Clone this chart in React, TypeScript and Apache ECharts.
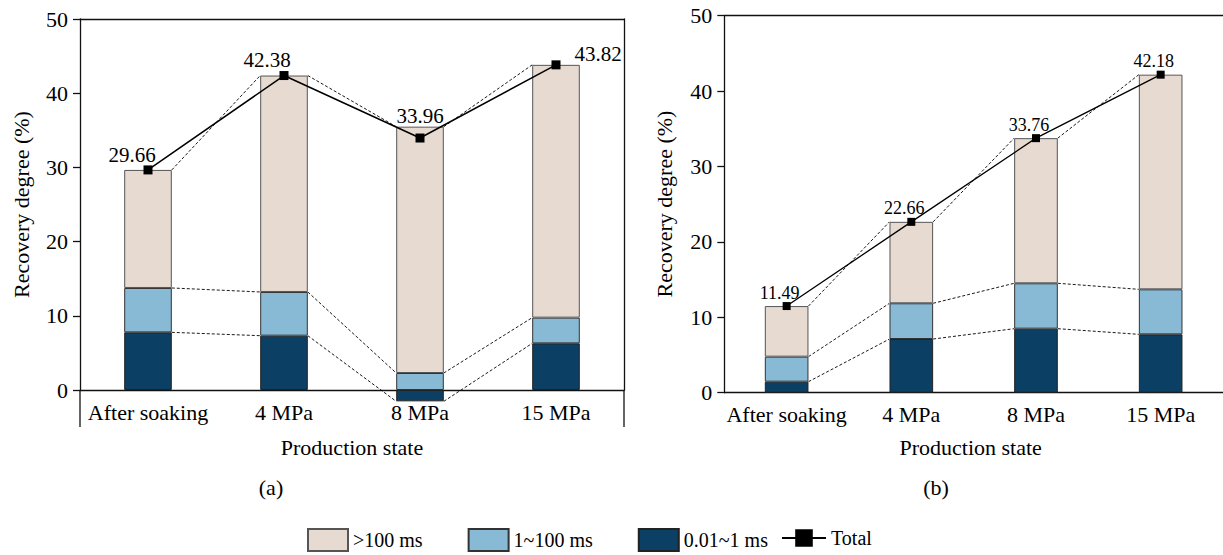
import React, { useEffect, useRef } from "react";
import * as echarts from "echarts";

// ---------- data ----------
const categories = ["After soaking", "4 MPa", "8 MPa", "15 MPa"];
const seriesNames = [">100 ms", "1~100 ms", "0.01~1 ms", "Total"];

// panel (a)
const darkA = [7.77, 7.32, -1.53, 6.29];
const lightA = [5.98, 5.89, 2.29, 3.46];
const beigeA = [15.91, 29.17, 33.2, 34.07];
const totalA = [29.66, 42.38, 33.96, 43.82];

// panel (b)
const darkB = [1.46, 7.12, 8.49, 7.74];
const lightB = [3.32, 4.74, 6.02, 5.97];
const beigeB = [6.71, 10.8, 19.25, 28.47];
const totalB = [11.49, 22.66, 33.76, 42.18];

// ---------- styles ----------
const FONT = "Liberation Serif";
const C_BEIGE = "#e7dad1";
const C_LIGHT = "#88bad6";
const C_DARK = "#0b3f63";
const AXIS_C = "#111";
const BAR_RATIO = 0.35;
const labelOffsetA = [
  [-16, -15],
  [-17, -16],
  [0, -22],
  [42, -11],
];
const labelOffsetB = [
  [-7, -13.5],
  [-7, -13.5],
  [-7, -13.5],
  [-7, -13.5],
];

function edges(dark: number[], light: number[], beige: number[], i: number) {
  const d = dark[i];
  const l = d >= 0 ? d + light[i] : light[i];
  return [d, l, l + beige[i]];
}

function connectorData(dark: number[], light: number[], beige: number[]) {
  const out: number[][] = [];
  for (let i = 0; i < dark.length - 1; i++) {
    out.push([i, ...edges(dark, light, beige, i), ...edges(dark, light, beige, i + 1)]);
  }
  return out;
}

function renderConnector(params: any, api: any) {
  const i = api.value(0);
  const half = (api.size([1, 0])[0] * BAR_RATIO) / 2;
  const children: any[] = [];
  for (let k = 0; k < 3; k++) {
    const p0 = api.coord([i, api.value(1 + k)]);
    const p1 = api.coord([i + 1, api.value(4 + k)]);
    children.push({
      type: "line",
      shape: { x1: p0[0] + half, y1: p0[1], x2: p1[0] - half, y2: p1[1] },
      style: { stroke: "#000", lineWidth: 0.9, lineDash: [3, 2] },
    });
  }
  return { type: "group", children };
}

function panelSeries(
  idx: number,
  dark: number[],
  light: number[],
  beige: number[],
  total: number[],
  offsets: number[][],
  labelSize: number,
  symSize: number,
  lineW: number
) {
  const barCommon = {
    type: "bar",
    xAxisIndex: idx * 2,
    yAxisIndex: idx * 2,
    stack: "s" + idx,
    barWidth: BAR_RATIO * 100 + "%",
    clip: false,
  };
  return [
    {
      ...barCommon,
      name: seriesNames[2],
      data: dark,
      itemStyle: { color: C_DARK, borderColor: "#222", borderWidth: 1 },
    },
    {
      ...barCommon,
      name: seriesNames[1],
      data: light,
      itemStyle: { color: C_LIGHT, borderColor: "#333", borderWidth: 1 },
    },
    {
      ...barCommon,
      name: seriesNames[0],
      data: beige,
      itemStyle: { color: C_BEIGE, borderColor: "#555", borderWidth: 1 },
    },
    {
      type: "custom",
      xAxisIndex: idx * 2,
      yAxisIndex: idx * 2,
      renderItem: renderConnector,
      data: connectorData(dark, light, beige),
      encode: { x: 0, y: [1, 2, 3, 4, 5, 6] },
      clip: false,
      z: 1,
      silent: true,
    },
    {
      type: "line",
      name: seriesNames[3],
      xAxisIndex: idx * 2,
      yAxisIndex: idx * 2,
      symbol: "rect",
      symbolSize: symSize,
      z: 5,
      itemStyle: { color: "#000" },
      lineStyle: { color: "#000", width: lineW },
      data: total.map((v, i) => ({
        value: v,
        label: { offset: offsets[i] },
      })),
      label: {
        show: true,
        position: "inside",
        color: "#000",
        fontFamily: FONT,
        fontSize: labelSize,
        formatter: (p: any) => p.value.toFixed(2),
      },
    },
  ];
}

function xAxes(gridIndex: number, nameGap: number, namePad: number[]) {
  return [
    {
      type: "category",
      gridIndex,
      data: categories,
      position: "bottom",
      axisLine: { onZero: false, lineStyle: { color: AXIS_C, width: 1.3 } },
      axisTick: { alignWithLabel: true, length: 6, lineStyle: { color: AXIS_C, width: 1.3 } },
      axisLabel: { interval: 0, color: "#000", fontFamily: FONT, fontSize: 22, margin: 11 },
      name: "Production state",
      nameLocation: "middle",
      nameGap,
      nameTextStyle: { color: "#000", fontFamily: FONT, fontSize: 22, padding: namePad },
      splitLine: { show: false },
    },
    {
      type: "category",
      gridIndex,
      data: categories,
      position: "top",
      axisLine: { onZero: false, lineStyle: { color: AXIS_C, width: 1.3 } },
      axisTick: { show: false },
      axisLabel: { show: false },
      splitLine: { show: false },
    },
  ];
}

function yAxes(gridIndex: number, rightLine: boolean) {
  return [
    {
      type: "value",
      gridIndex,
      min: 0,
      max: 50,
      interval: 10,
      position: "left",
      axisLine: { show: true, onZero: false, lineStyle: { color: AXIS_C, width: 1.3 } },
      axisTick: { show: true, length: 7, lineStyle: { color: AXIS_C, width: 1.3 } },
      axisLabel: { color: "#000", fontFamily: FONT, fontSize: 22, margin: 12 },
      splitLine: { show: false },
    },
    {
      type: "value",
      gridIndex,
      min: 0,
      max: 50,
      interval: 10,
      position: "right",
      axisLine: { show: rightLine, onZero: false, lineStyle: { color: AXIS_C, width: 1.3 } },
      axisTick: { show: false },
      axisLabel: { show: false },
      splitLine: { show: false },
    },
  ];
}

function txt(text: string, x: number, y: number, size: number, rotation = 0) {
  return {
    type: "text",
    x,
    y,
    rotation,
    style: {
      text,
      fill: "#000",
      fontFamily: FONT,
      fontSize: size,
      align: "center",
      verticalAlign: "middle",
    },
  };
}

function vline(x: number, y1: number, y2: number) {
  return {
    type: "line",
    shape: { x1: x, y1, x2: x, y2 },
    style: { stroke: AXIS_C, lineWidth: 1.3 },
  };
}

const legendText = { color: "#000", fontFamily: FONT, fontSize: 20 };

export default function App() {
  const ref = useRef<HTMLDivElement>(null);
  useEffect(() => {
    if (!ref.current) return;
    const chart = echarts.init(ref.current, null, { renderer: "svg" });
    const option: any = {
      animation: false,
      backgroundColor: "#fff",
      textStyle: { fontFamily: FONT },
      grid: [
        { left: 80, top: 19, width: 544, height: 371, containLabel: false },
        { left: 724.3, top: 15.7, width: 501.6, height: 377, containLabel: false },
      ],
      xAxis: [...xAxes(0, 46, [0, 0, 0, 0]), ...xAxes(1, 44, [0, 6, 0, 0])],
      yAxis: [...yAxes(0, true), ...yAxes(1, false)],
      legend: [
        {
          data: [
            { name: seriesNames[0], icon: "rect" },
            { name: seriesNames[1], icon: "rect" },
            { name: seriesNames[2], icon: "rect" },
          ],
          left: 302,
          top: 523,
          itemWidth: 40,
          itemHeight: 22,
          itemGap: 45,
          textStyle: legendText,
        },
        {
          data: [{ name: seriesNames[3] }],
          left: 776,
          top: 523,
          itemWidth: 44,
          itemHeight: 22,
          textStyle: legendText,
        },
      ],
      graphic: [
        vline(80, 390, 427),
        vline(624, 390, 427),
        txt("Recovery degree (%)", 21, 204.5, 22, Math.PI / 2),
        txt("Recovery degree (%)", 664, 204, 22, Math.PI / 2),
        txt("(a)", 271, 487, 22),
        txt("(b)", 936, 487, 22),
      ],
      series: [
        ...panelSeries(0, darkA, lightA, beigeA, totalA, labelOffsetA, 21, 9, 1.5),
        ...panelSeries(1, darkB, lightB, beigeB, totalB, labelOffsetB, 18, 8, 1.3),
      ],
    };
    chart.setOption(option);
    return () => chart.dispose();
  }, []);
  return (
    <div
      ref={ref}
      style={{ position: "fixed", left: 0, top: 0, width: 1223, height: 555 }}
    />
  );
}
